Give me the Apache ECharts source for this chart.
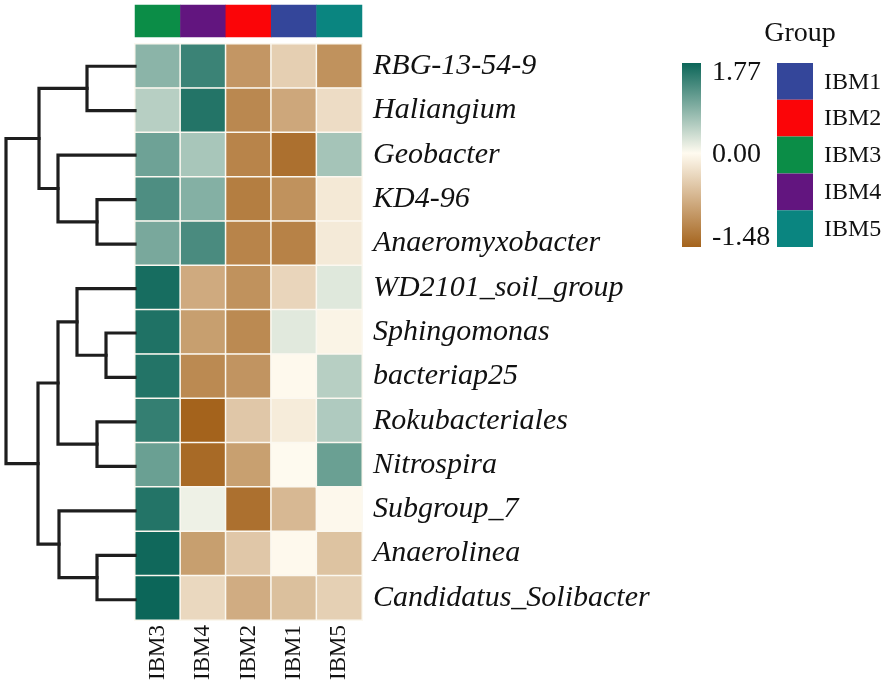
<!DOCTYPE html>
<html>

<head>
    <meta charset="utf-8">
    <script src="https://cdn.jsdelivr.net/npm/echarts@6.0.0/dist/echarts.min.js"></script>
    <style>
        html, body { margin: 0; padding: 0; background: #fff; }
    </style>
</head>

<body>
    <div id="echartsMain" style="width: 886px; height: 683px;"></div>
</body>

</html>

<script type="text/javascript">
    // heatmap columns (cluster order) and rows (top to bottom)
    let cols = ['IBM3', 'IBM4', 'IBM2', 'IBM1', 'IBM5']
    let rows = ['RBG-13-54-9', 'Haliangium', 'Geobacter', 'KD4-96', 'Anaeromyxobacter',
        'WD2101_soil_group', 'Sphingomonas', 'bacteriap25', 'Rokubacteriales', 'Nitrospira',
        'Subgroup_7', 'Anaerolinea', 'Candidatus_Solibacter']

    // z-scores per column, same order as rows
    let IBM3 = [0.84, 0.52, 1.06, 1.29, 0.98, 1.69, 1.63, 1.60, 1.48, 1.09, 1.60, 1.74, 1.77]
    let IBM4 = [1.43, 1.60, 0.63, 0.90, 1.32, -0.79, -0.90, -1.10, -1.48, -1.41, 0.12, -0.90, -0.34]
    let IBM2 = [-0.98, -1.12, -1.16, -1.22, -1.16, -1.02, -1.10, -1.00, -0.50, -0.89, -1.35, -0.50, -0.77]
    let IBM1 = [-0.43, -0.82, -1.35, -1.02, -1.18, -0.37, 0.22, -0.02, -0.15, 0.00, -0.65, -0.02, -0.58]
    let IBM5 = [-1.02, -0.30, 0.65, -0.18, -0.17, 0.23, -0.07, 0.52, 0.58, 1.09, -0.03, -0.55, -0.42]

    let scaleMin = -1.48
    let scaleMax = 1.77
    let scaleTicks = ['1.77', '0.00', '-1.48']

    // group annotation
    let groupNames = ['IBM1', 'IBM2', 'IBM3', 'IBM4', 'IBM5']
    let groupColors = ['#34469a', '#fb0508', '#0b8d47', '#62157f', '#0a8580']

    // row dendrogram, R hclust style: negative = leaf (-1 is first row), positive = earlier merge
    let mergeLeft = [-1, -4, -3, 1, -7, -6, -9, 6, -12, -11, 8, 4]
    let mergeRight = [-2, -5, 2, 3, -8, 5, -10, 7, -13, 9, 10, 11]
    let mergeHeight = [4.8, 3.8, 7.7, 9.6, 2.9, 5.8, 3.8, 7.7, 3.8, 7.6, 9.7, 12.9]

    const FONT = '"Liberation Serif", "Times New Roman", serif'
    const colTeal = [12, 102, 89]
    const colMid = [255, 251, 240]
    const colBrown = [164, 99, 28]

    function mix(a, b, t) {
        let c = a.map((v, i) => Math.round(v + (b[i] - v) * t))
        return 'rgb(' + c.join(',') + ')'
    }

    function colorAt(v) {
        if (v >= 0) return mix(colMid, colTeal, v / scaleMax)
        return mix(colMid, colBrown, v / scaleMin)
    }

    function draw() {
        let myChart = echarts.init(document.getElementById('echartsMain'))

        let colData = { IBM3: IBM3, IBM4: IBM4, IBM2: IBM2, IBM1: IBM1, IBM5: IBM5 }
        let heatData = []
        cols.forEach((c, ci) => {
            colData[c].forEach((v, ri) => heatData.push([ci, ri, v]))
        })

        let barData = cols.map((c, ci) => ({
            value: [ci, 0, groupNames.indexOf(c)],
            itemStyle: { color: groupColors[groupNames.indexOf(c)] }
        }))

        // dendrogram segments
        let nodePos = []
        function pos(ref) {
            if (ref < 0) return [0, -ref - 1 + 0.5]
            return nodePos[ref - 1]
        }
        let links = []
        mergeLeft.forEach((l, k) => {
            let a = pos(l)
            let b = pos(mergeRight[k])
            let h = mergeHeight[k]
            links.push({ coords: [[a[0], a[1]], [h, a[1]], [h, b[1]], [b[0], b[1]]] })
            nodePos.push([h, (a[1] + b[1]) / 2])
        })

        let steps = []
        for (let j = 0; j <= 64; j++) {
            steps.push(colorAt(scaleMin + (scaleMax - scaleMin) * j / 64))
        }

        // legend geometry
        let cbX = 682, cbY = 63, cbW = 19, cbH = 184
        let boxX = 777, boxW = 36, boxH = 36.8
        let graphics = [{
            type: 'rect',
            shape: { x: cbX, y: cbY, width: cbW, height: cbH },
            style: {
                fill: new echarts.graphic.LinearGradient(0, 0, 0, 1, [
                    { offset: 0, color: colorAt(scaleMax) },
                    { offset: 0.49, color: colorAt(0) },
                    { offset: 1, color: colorAt(scaleMin) }
                ])
            }
        }, {
            type: 'text',
            x: 800, y: 34,
            style: { text: 'Group', font: '28px ' + FONT, fill: '#111', align: 'center', verticalAlign: 'middle' }
        }]
        let tickY = [73, 155, 238]
        scaleTicks.forEach((t, i) => {
            graphics.push({
                type: 'text',
                x: 712, y: tickY[i],
                style: { text: t, font: '28px ' + FONT, fill: '#111', align: 'left', verticalAlign: 'middle' }
            })
        })
        groupNames.forEach((g, i) => {
            graphics.push({
                type: 'rect',
                shape: { x: boxX, y: cbY + i * boxH, width: boxW, height: boxH },
                style: { fill: groupColors[i] }
            })
            graphics.push({
                type: 'text',
                x: 824, y: cbY + (i + 0.5) * boxH + 1,
                style: { text: g, font: '24px ' + FONT, fill: '#111', align: 'left', verticalAlign: 'middle' }
            })
        })

        var option = {
            backgroundColor: '#fff',
            animation: false,
            grid: [
                { left: 135, top: 44, width: 227, height: 578 },
                { left: 135, top: 5, width: 227, height: 32 },
                { left: 5, top: 44, width: 130, height: 578 }
            ],
            xAxis: [{
                type: 'category',
                gridIndex: 0,
                data: cols,
                position: 'bottom',
                axisLine: { show: false },
                axisTick: { show: false },
                axisLabel: { rotate: 90, margin: 5, fontFamily: FONT, fontSize: 23, color: '#111' }
            }, {
                type: 'category',
                gridIndex: 1,
                data: cols,
                show: false
            }, {
                type: 'value',
                gridIndex: 2,
                min: 0,
                max: 13,
                inverse: true,
                show: false
            }],
            yAxis: [{
                type: 'category',
                gridIndex: 0,
                data: rows,
                inverse: true,
                position: 'right',
                axisLine: { show: false },
                axisTick: { show: false },
                axisLabel: { margin: 11, fontFamily: FONT, fontStyle: 'italic', fontSize: 30, color: '#111' }
            }, {
                type: 'category',
                gridIndex: 1,
                data: ['Group'],
                show: false
            }, {
                type: 'value',
                gridIndex: 2,
                min: 0,
                max: rows.length,
                inverse: true,
                show: false
            }],
            visualMap: {
                type: 'continuous',
                show: false,
                seriesIndex: 0,
                dimension: 2,
                min: scaleMin,
                max: scaleMax,
                inRange: { color: steps }
            },
            graphic: graphics,
            series: [{
                type: 'heatmap',
                xAxisIndex: 0,
                yAxisIndex: 0,
                data: heatData,
                itemStyle: { borderColor: '#fbf8f0', borderWidth: 1.5 },
                emphasis: { disabled: true }
            }, {
                type: 'heatmap',
                xAxisIndex: 1,
                yAxisIndex: 1,
                data: barData,
                itemStyle: { borderWidth: 0 },
                emphasis: { disabled: true }
            }, {
                type: 'lines',
                coordinateSystem: 'cartesian2d',
                xAxisIndex: 2,
                yAxisIndex: 2,
                polyline: true,
                silent: true,
                data: links,
                lineStyle: { color: '#1e1e1e', width: 3.2, opacity: 1, join: 'miter', cap: 'square' }
            }]
        }
        myChart.setOption(option)
    }

    draw()
</script>
